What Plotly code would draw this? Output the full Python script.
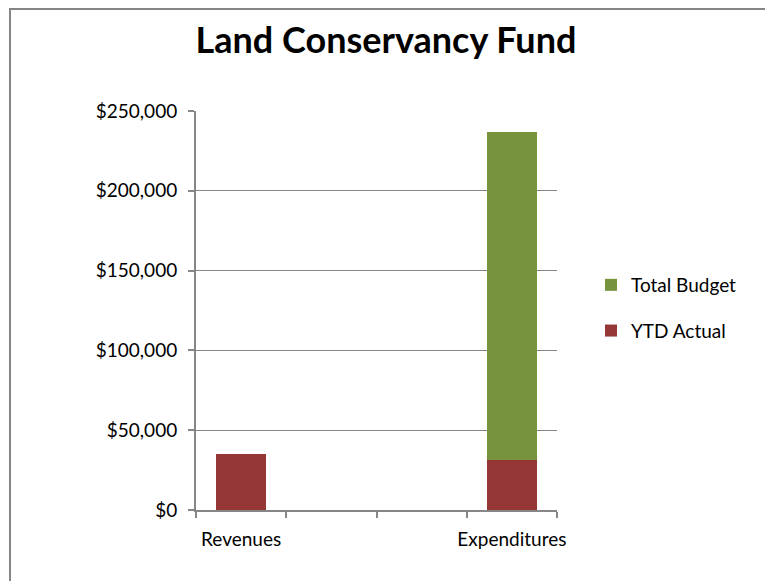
import plotly.graph_objects as go

categories = ["Revenues", " ", "  ", "Expenditures"]
ytd_actual = [34800, 0, 0, 31600]
total_budget = [0, 0, 0, 205000]
y_ticks = [0, 50000, 100000, 150000, 200000, 250000]
y_tick_labels = ["$0", "$50,000", "$100,000", "$150,000", "$200,000", "$250,000"]

RED = "#953735"
GREEN = "#77933C"
GRAY = "#868686"
FONT = "Lato, Calibri, Liberation Sans, sans-serif"

fig = go.Figure()
fig.add_trace(go.Bar(x=categories, y=ytd_actual, name="YTD Actual", legendgroup="a",
                     legendrank=2, marker=dict(color=RED, line=dict(width=0))))
fig.add_trace(go.Bar(x=categories, y=total_budget, name="Total Budget", legendgroup="b",
                     legendrank=1, marker=dict(color=GREEN, line=dict(width=0))))

W, H = 773, 581
L, R, T, B = 188, 224, 103, 79
pw, ph = W - L - R, H - T - B

fig.update_layout(
    width=W, height=H,
    margin=dict(l=L, r=R, t=T, b=B, autoexpand=False),
    barmode="stack", bargap=0.44,
    paper_bgcolor="white", plot_bgcolor="white",
    font=dict(family=FONT, size=16, color="#000000"),
    title=dict(text="<b>Land Conservancy Fund</b>", x=378 / W, xanchor="center",
               y=1 - 32 / H, yanchor="middle",
               font=dict(family=FONT, size=36, color="#000000")),
    showlegend=True,
    legend=dict(x=(583 - L) / pw, xanchor="left", y=(502 - 300) / ph, yanchor="middle",
                traceorder="grouped", font=dict(size=19),
                tracegroupgap=18, bgcolor="rgba(0,0,0,0)"),
    xaxis=dict(type="category", showgrid=False, showline=True, linecolor=GRAY,
               linewidth=2, ticks="outside", tickson="boundaries", ticklen=6,
               tickcolor=GRAY, tickwidth=2, tickfont=dict(size=19), tickangle=0,
               ticklabelstandoff=11, automargin=False),
    yaxis=dict(range=[0, 250000], tickvals=y_ticks, ticktext=y_tick_labels,
               showgrid=True, gridcolor=GRAY, gridwidth=1, showline=True,
               linecolor=GRAY, linewidth=2, ticks="outside", ticklen=6,
               tickcolor=GRAY, tickwidth=2, tickfont=dict(size=19), zeroline=False,
               ticklabelstandoff=7, automargin=False),
    shapes=[dict(type="rect", xref="paper", yref="paper",
                 x0=(2 - L) / pw, x1=(W + 20 - L) / pw,
                 y0=(502 - (H + 20)) / ph, y1=(502 - 1) / ph,
                 line=dict(color=GRAY, width=2), fillcolor="rgba(0,0,0,0)", layer="below")],
)

fig.write_html("out.html")
